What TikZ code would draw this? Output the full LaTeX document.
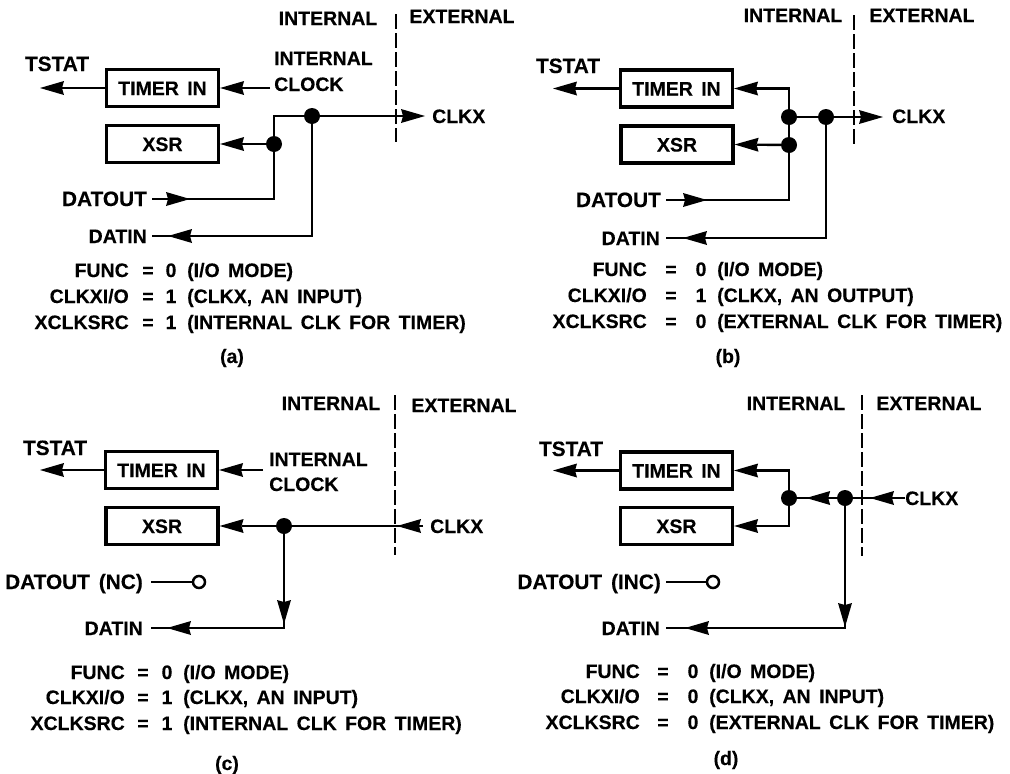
\documentclass[tikz,border=0pt]{standalone}
\usepackage{fontspec}
\setmainfont[WordSpace=1.55,BoldFont={Liberation Sans Bold},BoldFeatures={FakeBold=0.25}]{Liberation Sans}
\usetikzlibrary{arrows.meta,decorations.markings}
\tikzset{
  sigtip/.tip={Stealth[length=24pt,width=14pt,inset=2pt,line width=0pt]},
  lbl/.style={font=\fontsize{19.5}{20}\selectfont\bfseries,inner sep=0pt,text height=14pt,text depth=0pt},
  widelbl/.style={lbl,font=\fontsize{20.8}{21}\selectfont\bfseries},
  regbox/.style={draw,line width=3.2pt,inner sep=0pt,minimum width=112pt,minimum height=37pt,lbl},
  wire/.style={line width=2.4pt},
  dot/.style={circle,fill=black,inner sep=0pt,minimum size=16pt},
  hole/.style={circle,draw,line width=2.5pt,fill=white,inner sep=0pt,minimum size=12pt},
  divide/.style={line width=1.8pt,dash pattern=on 15pt off 4pt},
  tipat/.style={postaction={decorate,decoration={markings,mark=at position #1 with {\arrow{sigtip}}}}},
}
\newcommand{\regrow}[9]{%
  \node[lbl,anchor=east] (#1n) at (#2,#6) {#7};
  \node[lbl] (#1e) at (#3,#6) {=};
  \node[lbl] (#1v) at (#4,#6) {#8};
  \node[lbl,anchor=west] (#1t) at (#5,#6) {#9};
}
\begin{document}
\begin{tikzpicture}[x=1pt,y=-1pt]
\useasboundingbox (0,0) rectangle (1010,774);
% panel a
\node[lbl] (intA) at (328,18) {INTERNAL};
\node[lbl] (extA) at (462,16) {EXTERNAL};
\draw[divide] (396,14)--(396,142);
\node[widelbl] (tstatA) at (57,64) {TSTAT};
\node[regbox] (timerA) at (162.5,88) {TIMER IN};
\node[regbox] (xsrA) at (162.5,144) {XSR};
\node[lbl,anchor=west] (clkintA) at (274,58) {INTERNAL};
\node[lbl,anchor=west] (clockA) at (274,84) {CLOCK};
\node[lbl,anchor=west] (clkxA) at (432,116) {CLKX};
\node[widelbl,anchor=east] (datoutA) at (147,199) {DATOUT};
\node[lbl,anchor=east] (datinA) at (147,236) {DATIN};
\node[dot] (jtopA) at (312,116) {};
\node[dot] (jlowA) at (274,144) {};
\coordinate (tstattipA) at (40,88);
\coordinate (clocktailA) at (270,88);
\coordinate (cornerA) at (274,116);
\coordinate (clkxtipA) at (425,116);
\draw[wire,-sigtip] (timerA)--(tstattipA);
\draw[wire,-sigtip] (clocktailA)--(timerA.east);
\draw[wire,-sigtip] (jlowA)--(xsrA.east);
\draw[wire,-sigtip] (jtopA)--(clkxtipA);
\draw[wire] (jlowA)--(cornerA)--(jtopA);
\draw[wire,shorten <=5pt,tipat=43pt] (datoutA.east)-|(jlowA);
\draw[wire,shorten >=5pt,tipat=-21pt] (jtopA)|-(datinA.east);
\regrow{a1}{129}{148}{171}{187}{270}{FUNC}{0}{(I/O MODE)}
\regrow{a2}{129}{148}{171}{187}{296}{CLKXI/O}{1}{(CLKX, AN INPUT)}
\regrow{a3}{129}{148}{171}{187}{322}{XCLKSRC}{1}{(INTERNAL CLK FOR TIMER)}
\node[lbl] (capA) at (232,356) {(a)};
% panel b
\node[lbl] (intB) at (793,15) {INTERNAL};
\node[lbl] (extB) at (922,15) {EXTERNAL};
\draw[divide] (854,15)--(854,146);
\node[widelbl] (tstatB) at (568,66) {TSTAT};
\node[regbox] (timerB) at (676.5,88.5) {TIMER IN};
\node[regbox] (xsrB) at (677,144.5) {XSR};
\node[lbl,anchor=west] (clkxB) at (892,116) {CLKX};
\node[widelbl,anchor=east] (datoutB) at (661,200) {DATOUT};
\node[lbl,anchor=east] (datinB) at (660,238) {DATIN};
\node[dot] (jmidB) at (789,117) {};
\node[dot] (jtopB) at (826,117) {};
\node[dot] (jlowB) at (789,145) {};
\coordinate (tstattipB) at (553,88.5);
\coordinate (cornerB) at (789,88.5);
\coordinate (clkxtipB) at (883,117);
\draw[wire,-sigtip] (timerB)--(tstattipB);
\draw[wire,-sigtip] (jmidB)--(cornerB)--(timerB.east);
\draw[wire,-sigtip] (jlowB)--(xsrB.east);
\draw[wire] (jlowB)--(jmidB)--(jtopB);
\draw[wire,-sigtip] (jtopB)--(clkxtipB);
\draw[wire,shorten <=5pt,tipat=46pt] (datoutB.east)-|(jlowB);
\draw[wire,shorten >=6pt,tipat=-23pt] (jtopB)|-(datinB.east);
\regrow{b1}{647}{671}{701}{717}{269}{FUNC}{0}{(I/O MODE)}
\regrow{b2}{647}{671}{701}{717}{295}{CLKXI/O}{1}{(CLKX, AN OUTPUT)}
\regrow{b3}{647}{671}{701}{717}{321}{XCLKSRC}{0}{(EXTERNAL CLK FOR TIMER)}
\node[lbl] (capB) at (728,356) {(b)};
% panel c
\node[lbl] (intC) at (331,403) {INTERNAL};
\node[lbl] (extC) at (464,405) {EXTERNAL};
\draw[divide] (395,395)--(395,555);
\node[widelbl] (tstatC) at (55,448) {TSTAT};
\node[regbox] (timerC) at (161.5,470) {TIMER IN};
\node[regbox] (xsrC) at (162,526) {XSR};
\node[lbl,anchor=west] (clkintC) at (269,459) {INTERNAL};
\node[lbl,anchor=west] (clockC) at (269,484) {CLOCK};
\node[lbl,anchor=west] (clkxC) at (430,526) {CLKX};
\node[widelbl,anchor=east] (datoutC) at (143,582) {DATOUT (NC)};
\node[lbl,anchor=east] (datinC) at (143,628) {DATIN};
\node[dot] (jtopC) at (284,526) {};
\node[hole] (openC) at (199,582) {};
\coordinate (tstattipC) at (40,470);
\coordinate (clocktailC) at (263,470);
\coordinate (clkxtailC) at (423,526);
\draw[wire,-sigtip] (timerC)--(tstattipC);
\draw[wire,-sigtip] (clocktailC)--(timerC.east);
\draw[wire,-sigtip] (jtopC)--(xsrC.east);
\draw[wire,tipat=26pt] (clkxtailC)--(jtopC);
\draw[wire,shorten <=8pt] (datoutC.east)--(openC);
\draw[wire,shorten >=8pt,tipat=-145pt,tipat=-24pt] (jtopC)|-(datinC.east);
\regrow{c1}{125}{143}{167}{183}{672}{FUNC}{0}{(I/O MODE)}
\regrow{c2}{125}{143}{167}{183}{697}{CLKXI/O}{1}{(CLKX, AN INPUT)}
\regrow{c3}{125}{143}{167}{183}{723}{XCLKSRC}{1}{(INTERNAL CLK FOR TIMER)}
\node[lbl] (capC) at (227,763) {(c)};
% panel d
\node[lbl] (intD) at (796,403) {INTERNAL};
\node[lbl] (extD) at (929,403) {EXTERNAL};
\draw[divide] (862,395)--(862,556);
\node[widelbl] (tstatD) at (571,449) {TSTAT};
\node[regbox] (timerD) at (676.5,470.5) {TIMER IN};
\node[regbox] (xsrD) at (676.5,526) {XSR};
\node[lbl,anchor=west] (clkxD) at (905,498) {CLKX};
\node[widelbl,anchor=east] (datoutD) at (661,582) {DATOUT (INC)};
\node[lbl,anchor=east] (datinD) at (660,628) {DATIN};
\node[dot] (jmidD) at (789,498) {};
\node[dot] (jtopD) at (845,498) {};
\node[hole] (openD) at (713,582) {};
\coordinate (tstattipD) at (553,470.5);
\coordinate (cornerupD) at (789,470.5);
\coordinate (cornerlowD) at (789,526);
\draw[wire,-sigtip] (timerD)--(tstattipD);
\draw[wire,-sigtip] (jmidD)--(cornerupD)--(timerD.east);
\draw[wire,-sigtip] (jmidD)--(cornerlowD)--(xsrD.east);
\draw[wire,tipat=-9pt] (jtopD)--(jmidD);
\draw[wire,tipat=35pt] (clkxD.west)--(jtopD);
\draw[wire,shorten <=5pt] (datoutD.east)--(openD);
\draw[wire,shorten >=6pt,tipat=-186pt,tipat=-25pt] (jtopD)|-(datinD.east);
\regrow{d1}{640}{663}{693}{709}{671}{FUNC}{0}{(I/O MODE)}
\regrow{d2}{640}{663}{693}{709}{696}{CLKXI/O}{0}{(CLKX, AN INPUT)}
\regrow{d3}{640}{663}{693}{709}{722}{XCLKSRC}{0}{(EXTERNAL CLK FOR TIMER)}
\node[lbl] (capD) at (726,758) {(d)};
\end{tikzpicture}
\end{document}
